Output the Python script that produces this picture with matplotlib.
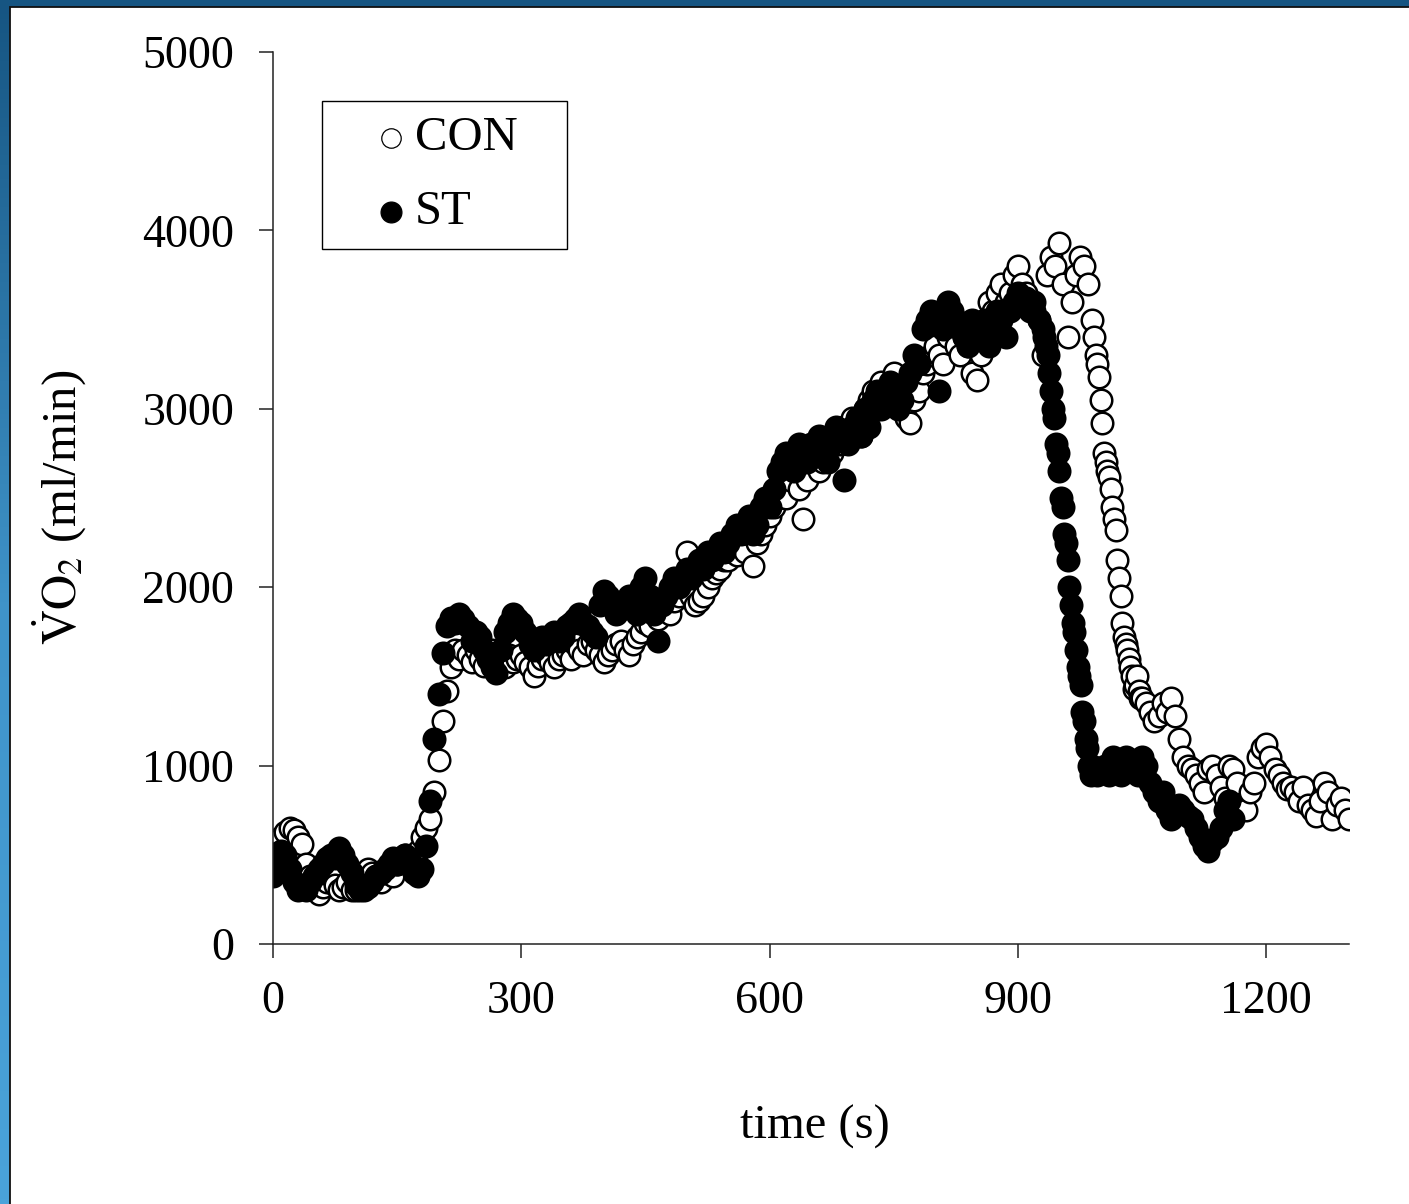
import numpy as np
import matplotlib
matplotlib.use('Agg')
import matplotlib.pyplot as plt
from matplotlib.colors import LinearSegmentedColormap
from matplotlib.patches import Rectangle

plt.rcParams['font.family'] = ['Liberation Serif', 'DejaVu Serif']
plt.rcParams['mathtext.fontset'] = 'stix'

# sampling times (s): every 5 s, every 2 s during the fast recovery drop
t_con = np.concatenate([np.arange(0, 990, 5), np.arange(990, 1050, 2),
                        np.arange(1050, 1301, 5)])
t_st = np.concatenate([np.arange(0, 930, 5), np.arange(930, 990, 2),
                       np.arange(990, 1161, 5)])

# VO2 (ml/min), CON group
vo2_con = [
    # 0 - 985 s
    450, 520, 600, 630, 650, 640, 600, 560, 450, 380,
    300, 280, 320, 350, 380, 330, 300, 320, 350, 300,
    300, 320, 380, 420, 400, 380, 350, 400, 420, 380,
    450, 480, 500, 460, 450, 520, 600, 650, 700, 850,
    1030, 1250, 1420, 1550, 1650, 1600, 1650, 1620, 1580, 1650,
    1600, 1560, 1620, 1650, 1580, 1600, 1550, 1620, 1580, 1600,
    1620, 1580, 1550, 1500, 1560, 1600, 1620, 1580, 1550, 1600,
    1620, 1650, 1600, 1680, 1650, 1620, 1680, 1700, 1650, 1620,
    1580, 1620, 1650, 1680, 1700, 1650, 1620, 1680, 1720, 1750,
    1800, 1780, 1850, 1820, 1880, 1900, 1850, 1920, 1950, 2000,
    2200, 1950, 1900, 1920, 1950, 2000, 2050, 2080, 2100, 2150,
    2150, 2200, 2180, 2250, 2200, 2300, 2120, 2250, 2300, 2350,
    2400, 2450, 2500, 2550, 2500, 2600, 2650, 2550, 2380, 2600,
    2700, 2750, 2650, 2700, 2800, 2750, 2850, 2800, 2900, 2850,
    2950, 2900, 2850, 3000, 3050, 3100, 3000, 3150, 3100, 3050,
    3200, 3100, 3050, 2950, 2920, 3050, 3100, 3200, 3250, 3300,
    3350, 3300, 3250, 3400, 3450, 3350, 3300, 3400, 3350, 3200,
    3160, 3300, 3500, 3600, 3550, 3650, 3700, 3600, 3650, 3750,
    3800, 3700, 3650, 3600, 3550, 3500, 3300, 3750, 3850, 3800,
    3930, 3700, 3400, 3600, 3750, 3850, 3800, 3700,
    # 990 - 1048 s (2 s)
    3500, 3400, 3300, 3250, 3180, 3050, 2920, 2750, 2700, 2650,
    2620, 2550, 2450, 2380, 2320, 2150, 2050, 1950, 1800, 1720,
    1680, 1650, 1600, 1550, 1500, 1430, 1450, 1500, 1420, 1380,
    # 1050 - 1300 s
    1380, 1350, 1300, 1250, 1280, 1350, 1300, 1380, 1280, 1150,
    1050, 1000, 980, 950, 900, 850, 980, 1000, 950, 880,
    820, 1000, 980, 900, 780, 750, 850, 900, 1050, 1100,
    1120, 1050, 980, 950, 900, 870, 880, 850, 800, 880,
    780, 750, 720, 800, 900, 850, 700, 780, 820, 750,
    700,
]

# VO2 (ml/min), ST group
vo2_st = [
    # 0 - 925 s
    380, 450, 520, 500, 420, 350, 300, 320, 300, 350,
    380, 420, 450, 480, 500, 480, 540, 500, 450, 400,
    330, 300, 300, 320, 350, 380, 400, 420, 450, 480,
    450, 480, 500, 460, 400, 380, 420, 550, 800, 1150,
    1400, 1630, 1780, 1830, 1800, 1850, 1820, 1780, 1700, 1750,
    1720, 1650, 1600, 1550, 1520, 1650, 1750, 1800, 1850, 1820,
    1800, 1750, 1680, 1650, 1700, 1720, 1680, 1700, 1750, 1700,
    1720, 1780, 1800, 1820, 1850, 1800, 1780, 1750, 1720, 1900,
    1980, 1950, 1900, 1850, 1880, 1920, 1950, 1900, 1850, 2000,
    2050, 1950, 1850, 1700, 1900, 1950, 2000, 2050, 2000, 2050,
    2100, 2050, 2100, 2150, 2100, 2200, 2150, 2200, 2250, 2200,
    2250, 2300, 2350, 2300, 2350, 2400, 2300, 2350, 2450, 2500,
    2450, 2550, 2650, 2700, 2750, 2700, 2650, 2800, 2750, 2700,
    2800, 2750, 2850, 2800, 2700, 2800, 2900, 2850, 2600, 2800,
    2900, 2950, 2850, 3000, 2900, 3050, 3100, 3000, 3100, 3150,
    3100, 3000, 3050, 3150, 3200, 3300, 3250, 3450, 3500, 3550,
    3500, 3100, 3450, 3600, 3550, 3500, 3450, 3400, 3350, 3500,
    3450, 3400, 3500, 3350, 3450, 3550, 3500, 3400, 3550, 3600,
    3650, 3600, 3620, 3550, 3600, 3500,
    # 930 - 988 s (2 s)
    3450, 3400, 3350, 3300, 3200, 3100, 3000, 2950, 2800, 2750,
    2650, 2500, 2450, 2300, 2250, 2150, 2000, 1900, 1800, 1750,
    1650, 1550, 1500, 1450, 1300, 1250, 1150, 1100, 1000, 950,
    # 990 - 1160 s
    1000, 950,
    980, 1000, 950, 1050, 1000, 950, 1050, 1000, 980, 950,
    1050, 1000, 900, 850, 800, 850, 750, 700, 750, 780,
    750, 720, 700, 650, 600, 550, 520, 580, 600, 650,
    750, 800, 700,
]

x_ticks = [0, 300, 600, 900, 1200]
y_ticks = [0, 1000, 2000, 3000, 4000, 5000]
labels = ['CON', 'ST']

fig = plt.figure(figsize=(14.09, 12.04), dpi=100)

# slide frame: blue gradient with white panel
bg = fig.add_axes([0, 0, 1, 1], zorder=-10)
bg.axis('off')
cmap = LinearSegmentedColormap.from_list('frame', ['#165582', '#3f93c9', '#4aa3da'])
bg.imshow(np.linspace(0, 1, 256).reshape(-1, 1), aspect='auto', cmap=cmap,
          extent=[0, 1, 0, 1], origin='upper')
bg.add_patch(Rectangle((9.5 / 1409, -0.01), 1.0, 1197.5 / 1204 + 0.01,
                       facecolor='white', edgecolor='#101010', lw=1.3))
bg.set_xlim(0, 1)
bg.set_ylim(0, 1)

ax = fig.add_axes([273 / 1409, 260 / 1204, 1076 / 1409, 892 / 1204])
ax.set_facecolor('none')

ax.plot(t_con, vo2_con, ls='none', marker='o', ms=15.5, mfc='white',
        mec='black', mew=1.8)
ax.plot(t_st, vo2_st, ls='none', marker='o', ms=15.5, mfc='black',
        mec='black', mew=1.8)

ax.set_xlim(0, 1300)
ax.set_ylim(0, 5000)
ax.set_xticks(x_ticks)
ax.set_yticks(y_ticks)
for s in ['top', 'right']:
    ax.spines[s].set_visible(False)
for s in ['left', 'bottom']:
    ax.spines[s].set_linewidth(1.1)
    ax.spines[s].set_color('#222222')
ax.tick_params(direction='out', length=10, width=1.1, color='#222222',
               labelsize=33)
ax.tick_params(axis='y', pad=18)
ax.tick_params(axis='x', pad=16)

ax.set_xlabel('time (s)', fontsize=35)
ax.xaxis.set_label_coords(0.504, -0.18)
ax.set_ylabel(r'$\dot{\mathrm{V}}\mathrm{O}_2$ (ml/min)', fontsize=35)
ax.yaxis.set_label_coords(-0.172, 0.49)

# legend box drawn by hand (wide side padding as in the slide)
ax.add_patch(Rectangle((0.0455, 0.7792), 0.2277, 0.1659, transform=ax.transAxes,
                       facecolor='white', edgecolor='black', lw=1.0, zorder=5))
ax.plot([0.1097], [0.9036], transform=ax.transAxes, ls='none', marker='o',
        ms=14, mfc='white', mec='black', mew=0.9, clip_on=False, zorder=6)
ax.plot([0.1097], [0.8206], transform=ax.transAxes, ls='none', marker='o',
        ms=15, mfc='black', mec='black', mew=0.9, clip_on=False, zorder=6)
ax.text(0.132, 0.9036, labels[0], transform=ax.transAxes, fontsize=35,
        va='center', ha='left', zorder=6)
ax.text(0.132, 0.8206, labels[1], transform=ax.transAxes, fontsize=35,
        va='center', ha='left', zorder=6)

fig.savefig('out.png', dpi=100)
